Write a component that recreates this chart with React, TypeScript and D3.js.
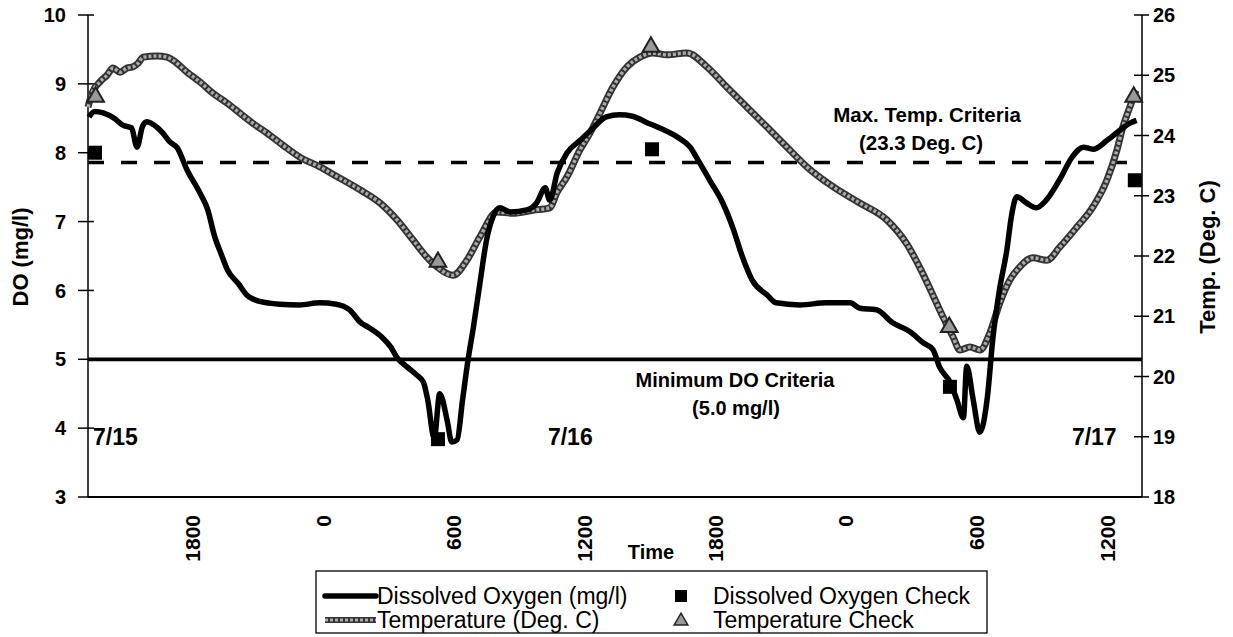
import React from "react";
import * as d3 from "d3";

// hours counted from 7/15 00:00
const doSeries: [number, number][] = [
  [13.25, 8.52], [13.5, 8.6], [13.9, 8.58], [14.4, 8.5], [14.8, 8.4], [15.2, 8.36], [15.45, 8.08],
  [15.7, 8.38], [15.9, 8.45], [16.4, 8.36], [16.65, 8.28], [16.95, 8.16], [17.3, 8.07], [17.75, 7.75],
  [18.35, 7.41], [18.7, 7.17], [19.0, 6.8], [19.35, 6.5], [19.6, 6.3], [20.1, 6.1], [20.5, 5.93],
  [21.1, 5.84], [22.0, 5.8], [22.9, 5.79], [23.85, 5.82], [24.6, 5.8], [25.2, 5.72], [25.7, 5.54],
  [26.15, 5.45], [26.7, 5.32], [27.1, 5.18], [27.4, 5.02], [27.85, 4.89], [28.3, 4.77], [28.6, 4.67],
  [28.8, 4.41], [29.1, 3.85], [29.35, 4.5], [29.7, 4.1], [29.9, 3.8], [30.15, 3.83], [30.4, 4.41],
  [30.65, 4.99], [30.9, 5.47], [31.2, 6.11], [31.5, 6.73], [31.8, 7.07], [32.1, 7.2], [32.6, 7.14],
  [33.35, 7.17], [33.8, 7.27], [34.2, 7.49], [34.4, 7.31], [34.75, 7.71], [35.2, 8.0], [35.8, 8.18],
  [36.4, 8.36], [37.0, 8.52], [37.6, 8.55], [38.2, 8.53], [38.85, 8.44], [39.45, 8.36], [40.25, 8.23],
  [40.85, 8.08], [41.2, 7.9], [41.75, 7.6], [42.35, 7.27], [42.8, 6.92], [43.25, 6.49], [43.7, 6.15],
  [44.4, 5.93], [44.8, 5.82], [45.9, 5.79], [47.1, 5.82], [48.2, 5.82], [48.65, 5.74], [49.4, 5.72],
  [50.15, 5.53], [50.95, 5.4], [51.55, 5.24], [52.0, 5.14], [52.3, 4.89], [52.8, 4.66], [53.1, 4.41],
  [53.4, 4.15], [53.55, 4.9], [53.85, 4.41], [54.15, 3.94], [54.5, 4.45], [54.75, 5.3], [55.05, 6.0],
  [55.4, 6.6], [55.6, 7.07], [55.85, 7.36], [56.3, 7.27], [56.75, 7.2], [57.2, 7.31], [57.8, 7.6],
  [58.4, 7.94], [58.9, 8.08], [59.35, 8.05], [60.0, 8.18], [60.6, 8.33], [61.05, 8.43], [61.35, 8.47],
];

const tempSeries: [number, number][] = [
  [13.2, 24.47], [13.38, 24.7], [13.75, 24.89], [14.07, 25.0], [14.35, 25.12], [14.67, 25.05],
  [14.99, 25.12], [15.27, 25.14], [15.5, 25.2], [15.73, 25.3], [16.37, 25.32], [16.83, 25.3],
  [17.1, 25.25], [17.75, 25.05], [18.34, 24.89], [18.94, 24.7], [19.58, 24.54], [20.18, 24.37],
  [20.78, 24.2], [21.42, 24.04], [22.15, 23.84], [22.93, 23.64], [23.85, 23.48], [24.77, 23.29],
  [25.69, 23.1], [26.61, 22.88], [27.39, 22.6], [28.12, 22.27], [28.76, 21.98], [29.22, 21.82],
  [29.96, 21.68], [30.6, 21.93], [31.2, 22.32], [31.98, 22.73], [32.71, 22.71], [33.63, 22.76],
  [34.41, 22.8], [34.73, 23.05], [35.19, 23.31], [35.79, 23.76], [36.25, 24.04], [36.71, 24.37],
  [37.3, 24.8], [37.95, 25.14], [38.54, 25.3], [39.14, 25.37], [39.78, 25.34], [40.7, 25.37],
  [41.62, 25.14], [42.54, 24.8], [43.46, 24.47], [44.38, 24.14], [45.29, 23.81], [46.21, 23.48],
  [47.41, 23.15], [48.64, 22.88], [49.88, 22.6], [50.8, 22.2], [51.45, 21.77], [52.0, 21.35],
  [52.46, 20.99], [52.92, 20.66], [53.24, 20.44], [53.7, 20.49], [54.16, 20.44], [54.61, 20.72],
  [55.07, 21.22], [55.53, 21.6], [55.99, 21.82], [56.59, 21.97], [57.23, 21.93], [57.83, 22.15],
  [58.61, 22.48], [59.34, 22.81], [59.99, 23.26], [60.45, 23.76], [60.72, 24.14], [61.04, 24.47],
  [61.32, 24.75],
];

const doChecks: [number, number][] = [[13.52, 8.0], [29.27, 3.84], [39.1, 8.05], [52.78, 4.6], [61.27, 7.6]];
const tempChecks: [number, number][] = [[13.55, 24.64], [29.27, 21.9], [39.05, 25.47], [52.75, 20.82], [61.22, 24.64]];

const xTickHours = [18, 24, 30, 36, 42, 48, 54, 60];
const xTickLabels = ["1800", "0", "600", "1200", "1800", "0", "600", "1200"];
const doTicks = [3, 4, 5, 6, 7, 8, 9, 10];
const tempTicks = [18, 19, 20, 21, 22, 23, 24, 25, 26];
const dateLabels = ["7/15", "7/16", "7/17"];
const dateHours = [13.43, 34.32, 58.38];
const minDO = 5.0;
const maxTempLine = 23.55;

const font = "Arial, 'Liberation Sans', sans-serif";

export default function App() {
  const left = 88, right = 1142, top = 15, bottom = 497;
  const x = d3.scaleLinear().domain([13.2, 61.6]).range([left, right]);
  const yDO = d3.scaleLinear().domain([3, 10]).range([bottom, top]);
  const yT = d3.scaleLinear().domain([18, 26]).range([bottom, top]);

  const doLine = d3.line<[number, number]>().x((d) => x(d[0])).y((d) => yDO(d[1])).curve(d3.curveMonotoneX);
  const tLine = d3.line<[number, number]>().x((d) => x(d[0])).y((d) => yT(d[1])).curve(d3.curveMonotoneX);
  const tri = d3.symbol().type(d3.symbolTriangle).size(120)();
  const triSmall = d3.symbol().type(d3.symbolTriangle).size(80)();

  return (
    <svg width={1233} height={637} style={{ position: "absolute", left: 0, top: 0, background: "#fff" }} fontFamily={font}>
      {/* reference lines */}
      <line x1={left} x2={right} y1={yDO(minDO)} y2={yDO(minDO)} stroke="#000" strokeWidth={3.8} />
      <line x1={left} x2={right - 12} y1={yT(maxTempLine)} y2={yT(maxTempLine)} stroke="#000" strokeWidth={3.5} strokeDasharray="16,17" />

      {/* axes */}
      <line x1={left} x2={left} y1={top} y2={bottom} stroke="#000" strokeWidth={1.5} />
      <line x1={right} x2={right} y1={top} y2={bottom} stroke="#000" strokeWidth={1.5} />
      <line x1={left} x2={right} y1={bottom} y2={bottom} stroke="#000" strokeWidth={2} />
      {doTicks.map((v) => (
        <g key={"l" + v}>
          <line x1={left - 10} x2={left + 6} y1={yDO(v)} y2={yDO(v)} stroke="#000" strokeWidth={1.5} />
          <text x={66} y={yDO(v)} dy="0.36em" textAnchor="end" fontSize={20} fontWeight="bold">{v}</text>
        </g>
      ))}
      {tempTicks.map((v) => (
        <g key={"r" + v}>
          <line x1={right - 8} x2={right + 7} y1={yT(v)} y2={yT(v)} stroke="#000" strokeWidth={1.5} />
          <text x={1153} y={yT(v)} dy="0.36em" textAnchor="start" fontSize={20} fontWeight="bold">{v}</text>
        </g>
      ))}
      {xTickHours.map((h, i) => (
        <text key={"x" + i} transform={`translate(${x(h)},515) rotate(-90)`} dy="0.36em" textAnchor="end" fontSize={21} fontWeight="bold">
          {xTickLabels[i]}
        </text>
      ))}
      <text x={651} y={559} textAnchor="middle" fontSize={20} fontWeight="bold">Time</text>
      <text transform="translate(20,257) rotate(-90)" dy="0.36em" textAnchor="middle" fontSize={22} fontWeight="bold">DO (mg/l)</text>
      <text transform="translate(1207,257) rotate(-90)" dy="0.36em" textAnchor="middle" fontSize={22} fontWeight="bold">Temp. (Deg. C)</text>

      {/* annotations */}
      <text x={927} y={122} textAnchor="middle" fontSize={20.5} fontWeight="bold">Max. Temp. Criteria</text>
      <text x={921} y={150} textAnchor="middle" fontSize={20.5} fontWeight="bold">(23.3 Deg. C)</text>
      <text x={735} y={387} textAnchor="middle" fontSize={20} fontWeight="bold">Minimum DO Criteria</text>
      <text x={736} y={415} textAnchor="middle" fontSize={20} fontWeight="bold">(5.0 mg/l)</text>
      {dateLabels.map((d, i) => (
        <text key={d} x={x(dateHours[i])} y={yDO(3.87)} dy="0.36em" fontSize={23} fontWeight="bold">{d}</text>
      ))}

      {/* series */}
      <path d={tLine(tempSeries) || ""} fill="none" stroke="#333" strokeWidth={7} strokeLinejoin="round" />
      <path d={tLine(tempSeries) || ""} fill="none" stroke="#aaa" strokeWidth={3.5} strokeDasharray="3,2" strokeLinejoin="round" />
      <path d={doLine(doSeries) || ""} fill="none" stroke="#000" strokeWidth={5.5} strokeLinejoin="round" />

      {doChecks.map((d, i) => (
        <rect key={"s" + i} x={x(d[0]) - 7} y={yDO(d[1]) - 7} width={14} height={14} fill="#000" />
      ))}
      {tempChecks.map((d, i) => (
        <path key={"t" + i} d={tri || ""} transform={`translate(${x(d[0])},${yT(d[1])})`} fill="#999" stroke="#222" strokeWidth={2} />
      ))}

      {/* legend */}
      <rect x={316} y={571} width={671} height={62} fill="#fff" stroke="#000" strokeWidth={1.3} />
      <line x1={325} x2={376} y1={596} y2={596} stroke="#000" strokeWidth={5.5} strokeLinecap="round" />
      <text x={377} y={596} dy="0.36em" fontSize={23}>Dissolved Oxygen (mg/l)</text>
      <rect x={675} y={590} width={12} height={12} fill="#000" />
      <text x={713} y={596} dy="0.36em" fontSize={23}>Dissolved Oxygen Check</text>
      <line x1={325} x2={376} y1={620} y2={620} stroke="#333" strokeWidth={6} />
      <line x1={325} x2={376} y1={620} y2={620} stroke="#aaa" strokeWidth={3} strokeDasharray="3,2" />
      <text x={377} y={620} dy="0.36em" fontSize={23}>Temperature (Deg. C)</text>
      <path d={triSmall || ""} transform="translate(681,621)" fill="#999" stroke="#222" strokeWidth={1.5} />
      <text x={713} y={620} dy="0.36em" fontSize={23}>Temperature Check</text>
    </svg>
  );
}
